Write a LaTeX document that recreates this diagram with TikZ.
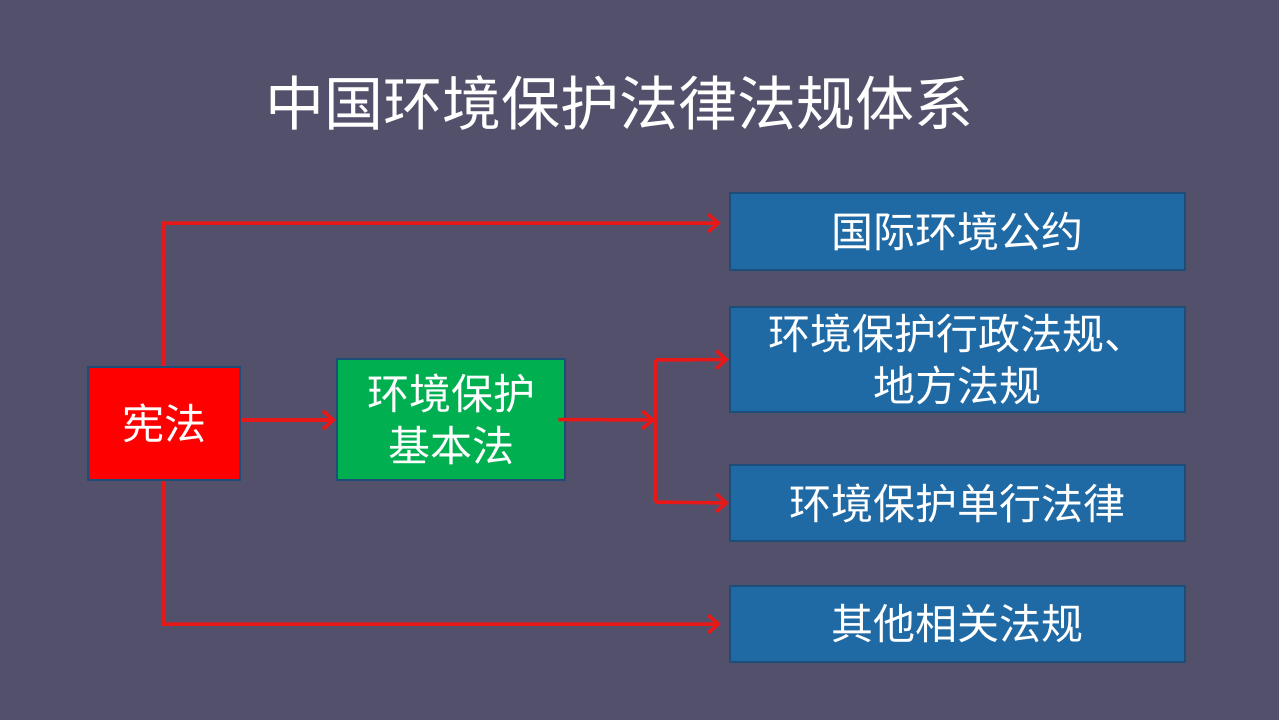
\documentclass[tikz,border=0pt]{standalone}
\usepackage{fontspec}
\setmainfont{Noto Sans CJK SC}
\usetikzlibrary{arrows.meta}
\definecolor{bg}{HTML}{52506A}
\definecolor{bred}{HTML}{FF0000}
\definecolor{bgreen}{HTML}{00B050}
\definecolor{bblue}{HTML}{1F69A4}
\definecolor{bord}{HTML}{1D4E7A}
\definecolor{lred}{HTML}{E81818}
\tikzset{
  box/.style={draw=bord, line width=2.5pt, text=white, font=\fontsize{42}{52}\selectfont, align=center, inner sep=0pt},
  conn/.style={draw=lred, line width=3.5pt, -{Straight Barb[length=10pt,width=18pt,line width=3.5pt]}},
  plain/.style={draw=lred, line width=3.5pt}
}
\begin{document}
\begin{tikzpicture}[x=1pt,y=-1pt]
\fill[bg] (0,0) rectangle (1279,720);
\useasboundingbox (0,0) rectangle (1279,720);
\node[text=white, font=\fontsize{59}{62}\selectfont] (title) at (619,103) {中国环境保护法律法规体系};
\node[box, fill=bred, minimum width=152pt, minimum height=113pt] (xf) at (164,423.5) {宪法};
\node[box, fill=bgreen, minimum width=228pt, minimum height=121pt] (jbf) at (451,419.5) {环境保护\\基本法};
\node[box, fill=bblue, minimum width=455pt, minimum height=77pt] (gj) at (957.5,231.5) {国际环境公约};
\node[box, fill=bblue, minimum width=455pt, minimum height=105pt] (xz) at (957.5,359.5) {环境保护行政法规、\\地方法规};
\node[box, fill=bblue, minimum width=455pt, minimum height=76pt] (dx) at (957.5,503) {环境保护单行法律};
\node[box, fill=bblue, minimum width=455pt, minimum height=76pt] (qt) at (957.5,624) {其他相关法规};
\coordinate (split) at (655,420);
\draw[conn] (xf.north) -- (163,223) -- ([xshift=-8pt]gj.west |- 0,223);
\draw[conn] (xf.south) -- (163,624) -- ([xshift=-8pt]qt.west);
\draw[conn] (xf.east |- 0,420) -- (jbf.west |- 0,420);
\draw[conn] ([xshift=-8pt]jbf.east) -- (split);
\draw[plain] (655,360) -- (655,502);
\draw[conn] (655,360) -- (xz.west);
\draw[conn] (655,502) -- (dx.west);
\end{tikzpicture}
\end{document}
